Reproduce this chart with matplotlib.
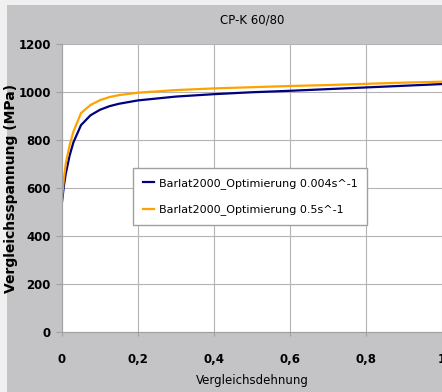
import matplotlib
matplotlib.use('Agg')
import matplotlib.pyplot as plt
from matplotlib.patches import Rectangle
from matplotlib.ticker import FuncFormatter

plt.rcParams['font.family'] = ['DejaVu Sans']

# data
strain = [0, 0.005, 0.01, 0.02, 0.03, 0.05, 0.075, 0.1, 0.125, 0.15, 0.2,
          0.3, 0.4, 0.5, 0.6, 0.7, 0.8, 0.9, 1.0]
slow = [542, 610, 660, 735, 790, 862, 903, 926, 941, 951, 965,
        981, 991, 999, 1005, 1012, 1019, 1026, 1033]
fast = [560, 640, 702, 778, 835, 912, 946, 966, 979, 987, 997,
        1008, 1015, 1020, 1025, 1029, 1034, 1039, 1043]
labels = ['Barlat2000_Optimierung 0.004s^-1', 'Barlat2000_Optimierung 0.5s^-1']
colors = ['#000080', '#ffa200']

fig = plt.figure(figsize=(4.42, 3.92), dpi=100, facecolor='#f0f0f0')
# grey chart panel
panel = Rectangle((7 / 442, 0), 1, 1 - 5 / 392, transform=fig.transFigure,
                  facecolor='#c4c3c5', edgecolor='none', zorder=-10)
fig.add_artist(panel)

ax = fig.add_axes([62 / 442, 1 - 332 / 392, 380 / 442, 288 / 392])
ax.set_zorder(1)
ax.set_facecolor('white')
ax.plot(strain, slow, color=colors[0], lw=1.6, label=labels[0])
ax.plot(strain, fast, color=colors[1], lw=1.6, label=labels[1])

ax.set_xlim(0, 1.0)
ax.set_ylim(0, 1200)
ax.set_xticks([0, 0.2, 0.4, 0.6, 0.8, 1.0])
ax.set_yticks(range(0, 1201, 200))
ax.xaxis.set_major_formatter(FuncFormatter(lambda v, p: ('%g' % round(v, 1)).replace('.', ',')))
ax.grid(True, color='#b4b4b4', lw=0.8)
ax.set_axisbelow(True)
for s in ['top', 'right']:
    ax.spines[s].set_visible(False)
for s in ['left', 'bottom']:
    ax.spines[s].set_color('#a0a0a0')
ax.tick_params(axis='y', length=4, color='#a0a0a0', pad=4, labelsize=8.5)
ax.tick_params(axis='x', length=3, color='#a0a0a0', pad=12, labelsize=8.5)
for t in ax.get_xticklabels() + ax.get_yticklabels():
    t.set_fontweight('bold')

ax.set_title('CP-K 60/80', fontsize=8.5, pad=15)
ax.set_xlabel('Vergleichsdehnung', fontsize=8.5, labelpad=6)
ax.set_ylabel('Vergleichsspannung (MPa)', fontsize=10, fontweight='bold')
ax.yaxis.set_label_coords(-0.116, 0.497)

ax.legend(loc='upper left', bbox_to_anchor=(0.187, 0.569), borderaxespad=0, fontsize=8,
          fancybox=False, edgecolor='#a0a0a0', framealpha=1,
          handlelength=1.0, handletextpad=0.4, borderpad=0.9, labelspacing=1.4)

fig.savefig('out.png', dpi=100, facecolor=fig.get_facecolor())
